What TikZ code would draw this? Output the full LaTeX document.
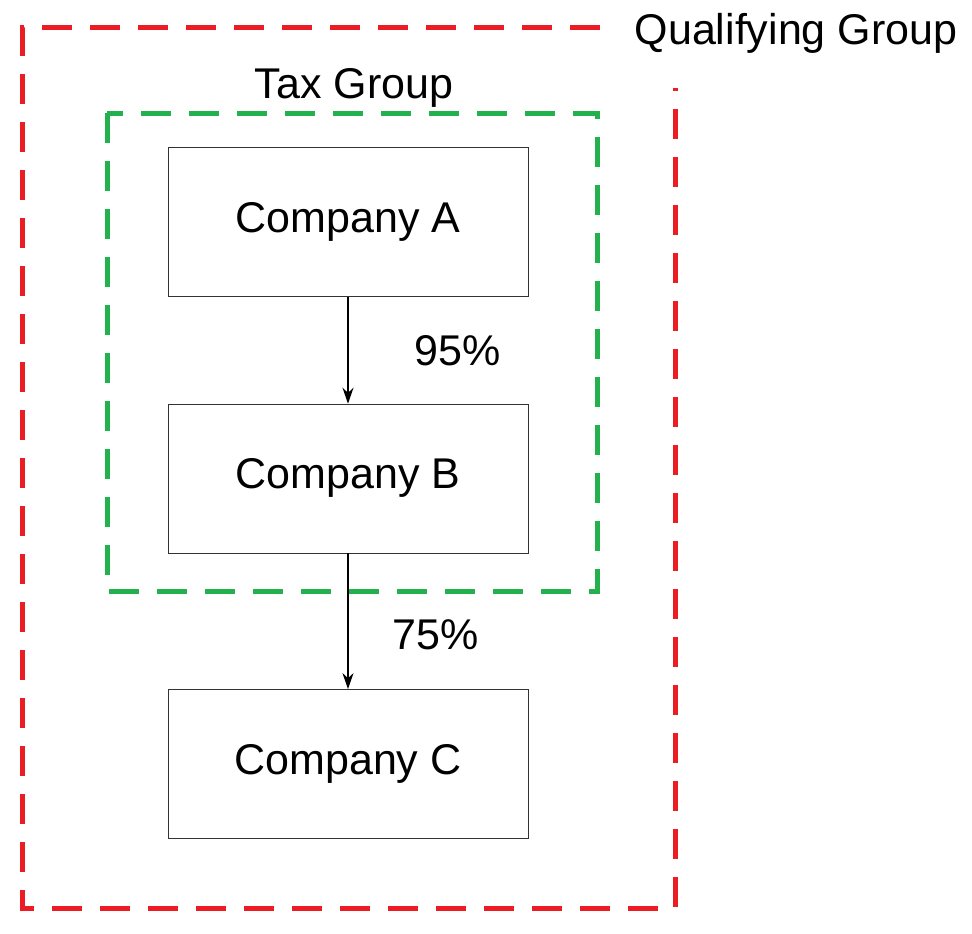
\documentclass[tikz,border=0pt]{standalone}
\usepackage{fontspec}
\setmainfont{Liberation Sans}
\usetikzlibrary{arrows.meta,positioning}
\definecolor{qred}{RGB}{236,28,36}
\definecolor{tgreen}{RGB}{34,177,76}
\begin{document}
\begin{tikzpicture}[
    x = 1pt, y = -1pt, % pixel units
    > = {Stealth[length=16pt, width=11pt]}, % arrow head style
    semithick,
    company/.style = {draw = black!80, thin, minimum width = 360pt,
        minimum height = 149pt, font = \fontsize{43}{50}\selectfont},
    pct/.style = {font = \fontsize{43}{50}\selectfont},
    groupline/.style = {line width = 5pt, dash pattern = on 30pt off 18pt}
    ]
    \useasboundingbox (0,0) rectangle (972,934);

    \node[company] (ca) at (348,222) {Company A};
    \node[company] (cb) [below = 107pt of ca] {Company B};
    \node[company] (cc) [below = 136pt of cb] {Company C};

    \draw[->, line width = 1.8pt] (ca) -- node[pct, right = 62pt]{95\%} (cb);
    \draw[->, line width = 1.8pt] (cb) -- node[pct, right = 40pt, pos = 0.6]{75\%} (cc);

    % groups
    \draw[groupline, tgreen] (107,113) rectangle (597,591);
    \node[pct] (tax) at (354,88) {Tax Group};
    \draw[groupline, qred] (600,28) -- (22,28) -- (22,908) -- (675,908) -- (675,88);
    \node[pct] (qual) at (796,33) {Qualifying Group};
\end{tikzpicture}
\end{document}
